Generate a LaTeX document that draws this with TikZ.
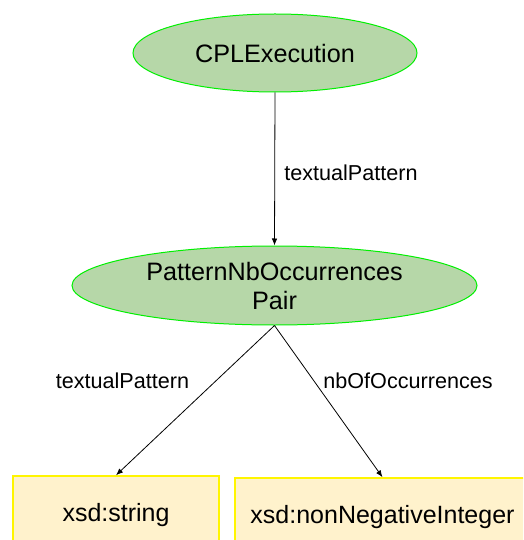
\documentclass[tikz,border=0pt]{standalone}
\usepackage{fontspec}
\setmainfont{Liberation Sans}
\usetikzlibrary{shapes.geometric,arrows.meta}
\definecolor{ellfill}{RGB}{182,215,168}
\definecolor{ellline}{RGB}{0,240,0}
\definecolor{boxfill}{RGB}{255,242,204}
\definecolor{boxline}{RGB}{255,245,0}
\tikzset{
  cls/.style={ellipse, draw=ellline, fill=ellfill, line width=1pt, inner sep=0pt,
    font=\fontsize{25.2}{29}\selectfont, align=center},
  dtype/.style={rectangle, draw=boxline, fill=boxfill, line width=1.5pt, inner sep=0pt,
    minimum height=78pt, font=\fontsize{25}{29}\selectfont},
  rel/.style={draw=black, line width=0.8pt, -{Latex[length=7pt,width=5.5pt]}},
  lbl/.style={font=\fontsize{21.6}{25}\selectfont, inner sep=0pt}
}
\begin{document}
\begin{tikzpicture}[x=1pt,y=1pt]
\useasboundingbox (0,0) rectangle (523,-540);
\clip (0,0) rectangle (523,-540);
\fill[white] (0,0) rectangle (523,-540);
\node[cls, minimum width=284pt, minimum height=78pt] (cpl) at (275,-53) {CPLExecution};
\node[cls, minimum width=405pt, minimum height=79pt] (pair) at (274.5,-285.5) {PatternNbOccurrences\\Pair};
\node[dtype, minimum width=206pt] (str) at (116,-515) {xsd:string};
\node[dtype, minimum width=295pt] (nni) at (382.5,-517) {xsd:nonNegativeInteger};
\draw[rel] (cpl.south) -- (pair.north);
\draw[rel] (pair.south) -- (str.north);
\draw[rel] (pair.south) -- (nni.north);
\node[lbl] (l1) at (351,-173) {textualPattern};
\node[lbl] (l2) at (122.5,-381) {textualPattern};
\node[lbl] (l3) at (408,-381) {nbOfOccurrences};
\end{tikzpicture}
\end{document}
